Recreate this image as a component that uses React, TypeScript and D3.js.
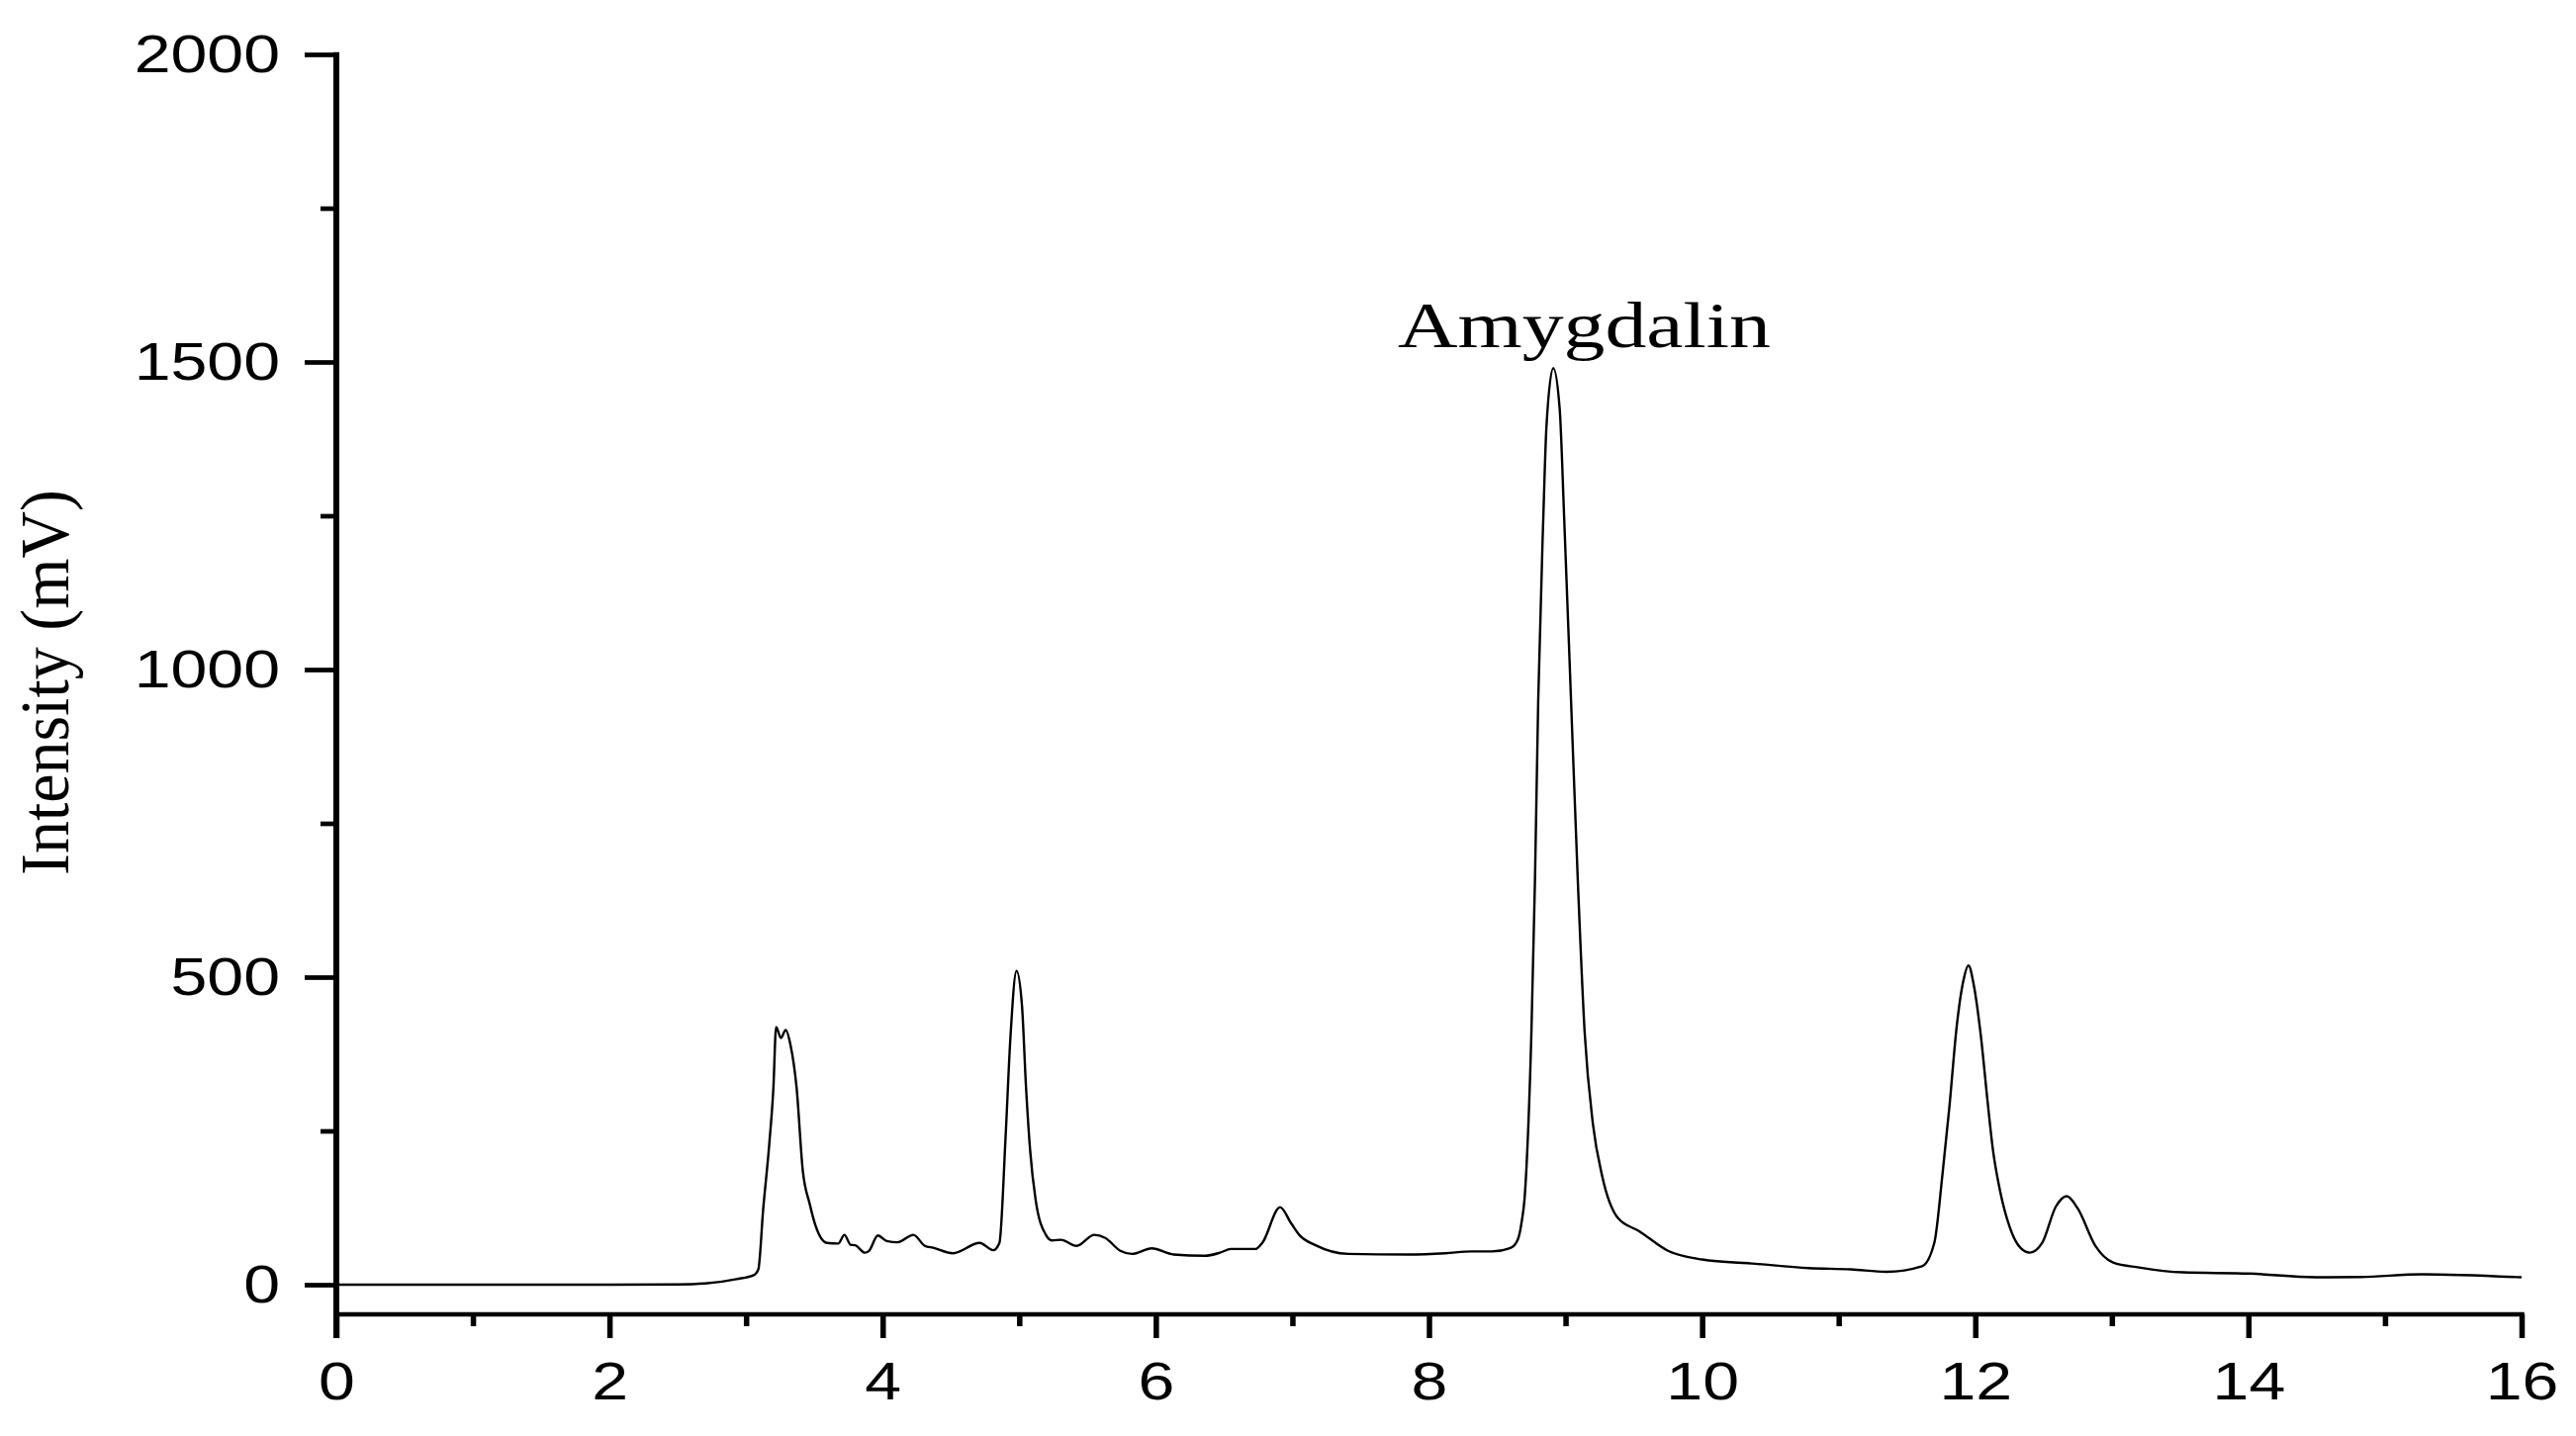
import * as d3 from 'd3';
import React, { useRef, useEffect } from 'react';

// retention time (min) and detector signal (mV)
const times = [
  0, 1.0, 2.0, 2.5, 2.7, 2.93, 3.06, 3.09, 3.125, 3.17, 3.2, 3.22, 3.255, 3.29, 3.325, 3.37,
  3.415, 3.465, 3.51, 3.59, 3.675, 3.72, 3.765, 3.8, 3.87, 3.9, 3.965, 4.03, 4.11, 4.225,
  4.31, 4.37, 4.515, 4.71, 4.81, 4.855, 4.9, 4.935, 4.98, 5.02, 5.05, 5.08, 5.12, 5.195,
  5.24, 5.305, 5.42, 5.55, 5.63, 5.74, 5.825, 5.97, 6.13, 6.36, 6.47, 6.55, 6.73, 6.78,
  6.91, 6.99, 7.05, 7.17, 7.41, 7.85, 8.12, 8.31, 8.46, 8.6, 8.65, 8.68, 8.7, 8.716, 8.75,
  8.776, 8.8, 8.837, 8.86, 8.91, 8.957, 8.99, 9.04, 9.09, 9.14, 9.2, 9.27, 9.385, 9.54,
  9.75, 10.0, 10.39, 10.78, 11.09, 11.35, 11.61, 11.7, 11.76, 11.81, 11.865, 11.91, 11.95,
  11.99, 12.04, 12.09, 12.13, 12.18, 12.25, 12.33, 12.4, 12.49, 12.59, 12.67, 12.75, 12.88,
  13.01, 13.2, 13.52, 14.01, 14.49, 14.82, 15.27, 16.0,
];
const intensity = [
  0, 0, 0, 0.5, 2, 9, 16, 25, 122, 229, 320, 419, 401, 414, 390, 320,
  186, 132, 95, 68, 67, 81, 65, 64, 52, 55, 80, 71, 69, 81,
  63, 60, 51, 68, 56, 68, 240, 400, 510, 454, 320, 218, 138, 81,
  72, 73, 63, 81, 76, 55, 50, 59, 49, 47, 52, 58, 58, 68,
  126, 100, 81, 64, 50, 49, 51, 54, 54, 60, 73, 104, 140, 200, 410,
  656, 951, 1246, 1394, 1490, 1424, 1246, 951, 656, 410, 262, 175, 108, 87,
  55, 41, 34, 27, 25, 21, 30, 68, 180, 288, 422, 491, 519,
  486, 406, 298, 218, 154, 95, 60, 52, 68, 127, 144, 124, 63,
  36, 28, 20, 18, 12, 12.5, 17, 12,
];

const xTicks = [0, 2, 4, 6, 8, 10, 12, 14, 16];
const xMinorTicks = [1, 3, 5, 7, 9, 11, 13, 15];
const yTicks = [0, 500, 1000, 1500, 2000];
const yMinorTicks = [250, 750, 1250, 1750];
const peakLabel = 'Amygdalin';
const yLabel = 'Intensity (mV)';

const W = 2604;
const H = 1452;
const STRETCH = 1.25; // tick labels in the figure are drawn wide

export default function App() {
  const ref = useRef<SVGSVGElement>(null);

  useEffect(() => {
    const svg = d3.select(ref.current);
    svg.selectAll('*').remove();

    const x = d3.scaleLinear().domain([0, 16]).range([340, 2549]);
    const y = d3.scaleLinear().domain([0, 2000]).range([1299, 55]);
    const axisY = 1329;

    // x axis: major + minor ticks
    const gx = svg.append('g').attr('transform', `translate(0,${axisY})`);
    gx.call(d3.axisBottom(x).tickValues(xTicks).tickSize(24).tickSizeOuter(0).tickFormat(d3.format('d')));
    gx.select('.domain').remove();
    gx.selectAll('line').attr('stroke', '#000').attr('stroke-width', 5.5);
    gx.selectAll('text')
      .attr('y', 0).attr('dy', null)
      .attr('transform', `translate(0,86) scale(${STRETCH},1)`)
      .attr('fill', '#000')
      .attr('font-family', 'Liberation Sans, Arial, sans-serif')
      .attr('font-size', 53);

    const gxm = svg.append('g').attr('transform', `translate(0,${axisY})`);
    gxm.call(d3.axisBottom(x).tickValues(xMinorTicks).tickSize(12).tickSizeOuter(0).tickFormat(() => ''));
    gxm.select('.domain').remove();
    gxm.selectAll('line').attr('stroke', '#000').attr('stroke-width', 5.5);

    // y axis: major + minor ticks
    const gy = svg.append('g').attr('transform', `translate(${x(0)},0)`);
    gy.call(d3.axisLeft(y).tickValues(yTicks).tickSize(32).tickSizeOuter(0).tickFormat(d3.format('d')));
    gy.select('.domain').remove();
    gy.selectAll('line').attr('stroke', '#000').attr('stroke-width', 4.7);
    gy.selectAll('text')
      .attr('x', 0).attr('dy', null).attr('y', 0)
      .attr('text-anchor', 'end')
      .attr('transform', `translate(-57,17) scale(${STRETCH},1)`)
      .attr('fill', '#000')
      .attr('font-family', 'Liberation Sans, Arial, sans-serif')
      .attr('font-size', 53);

    const gym = svg.append('g').attr('transform', `translate(${x(0)},0)`);
    gym.call(d3.axisLeft(y).tickValues(yMinorTicks).tickSize(16).tickSizeOuter(0).tickFormat(() => ''));
    gym.select('.domain').remove();
    gym.selectAll('line').attr('stroke', '#000').attr('stroke-width', 4.7);

    // axis lines
    svg.append('line')
      .attr('x1', x(0) - 3).attr('x2', x(16) + 2.75)
      .attr('y1', axisY).attr('y2', axisY)
      .attr('stroke', '#000').attr('stroke-width', 4.7);
    svg.append('line')
      .attr('x1', x(0)).attr('x2', x(0))
      .attr('y1', y(2000) - 2.35).attr('y2', axisY + 24)
      .attr('stroke', '#000').attr('stroke-width', 6);

    // chromatogram
    const line = d3.line<number>()
      .x((_, i) => x(times[i]))
      .y(d => y(d))
      .curve(d3.curveMonotoneX);
    svg.append('path')
      .datum(intensity)
      .attr('d', line)
      .attr('fill', 'none')
      .attr('stroke', '#000')
      .attr('stroke-width', 2.4)
      .attr('stroke-linejoin', 'round');

    // labels
    svg.append('text')
      .attr('x', 1413).attr('y', 351)
      .attr('font-family', 'Liberation Serif, Times New Roman, serif')
      .attr('font-size', 65)
      .attr('textLength', 377)
      .attr('lengthAdjust', 'spacingAndGlyphs')
      .text(peakLabel);

    svg.append('text')
      .attr('transform', 'translate(69,690) rotate(-90)')
      .attr('text-anchor', 'middle')
      .attr('font-family', 'Liberation Serif, Times New Roman, serif')
      .attr('font-size', 70)
      .attr('textLength', 390)
      .attr('lengthAdjust', 'spacingAndGlyphs')
      .text(yLabel);
  }, []);

  return (
    <div style={{ position: 'absolute', left: 0, top: 0 }}>
      <svg ref={ref} width={W} height={H} style={{ display: 'block', background: '#fff' }} />
    </div>
  );
}
